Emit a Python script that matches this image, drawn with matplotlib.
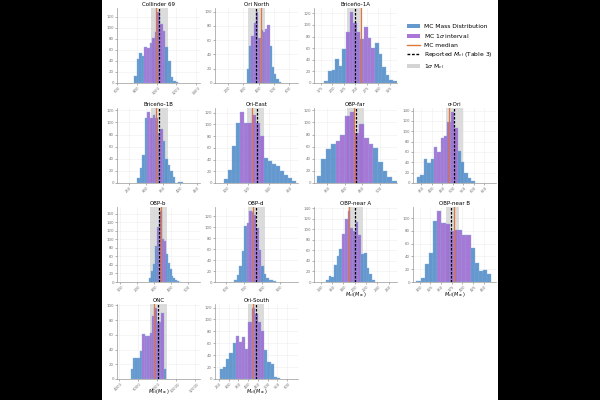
import numpy as np
import matplotlib
matplotlib.use("Agg")
from matplotlib import pyplot as plt
from matplotlib.patches import Patch, Rectangle
from matplotlib.lines import Line2D

# Paneles (en orden de lectura)
titles = ["Collinder 69", "Ori North", "Briceño-1A",
          "Briceño-1B", "Ori-East", "OBP-far", "σ-Ori",
          "OBP-b", "OBP-d", "OBP-near A", "OBP-near B",
          "ONC", "Ori-South"]

collinder69 = [12, 44, 54, 49, 65, 63, 72, 82, 93, 129, 107, 94, 65, 40, 11, 4, 1]
ori_north = [20, 52, 66, 84, 100, 63, 74, 71, 75, 81, 52, 22, 13, 6, 2]
briceno_1a = [3, 20, 22, 41, 29, 58, 87, 123, 103, 87, 75, 96, 78, 60, 69, 50, 28, 14, 5, 3]
briceno_1b = [9, 24, 47, 107, 118, 107, 113, 108, 83, 90, 69, 40, 30, 20, 10, 0, 2, 1]
ori_east = [7, 23, 63, 102, 122, 102, 102, 116, 102, 80, 43, 38, 33, 29, 20, 13, 8, 3]
obp_far = [11, 40, 56, 65, 70, 80, 110, 118, 82, 97, 74, 65, 57, 34, 20, 10, 3]
sigma_ori = [12, 16, 47, 38, 47, 70, 60, 86, 90, 117, 138, 107, 62, 40, 20, 10, 3]
obp_b = [10, 25, 42, 83, 128, 150, 167, 100, 97, 65, 45, 30, 15, 10, 5, 2, 1]
obp_d = [3, 13, 30, 57, 102, 108, 130, 127, 122, 98, 58, 30, 15, 8, 3, 4, 2]
obp_near_a = [3, 12, 10, 33, 50, 63, 92, 120, 136, 103, 98, 115, 90, 53, 56, 27, 15, 3]
obp_near_b = [1, 6, 28, 45, 96, 112, 93, 91, 80, 81, 82, 73, 73, 54, 30, 17, 19, 12]
onc = [14, 28, 28, 28, 38, 61, 58, 58, 63, 86, 97, 77, 78, 90, 14]
ori_south = [17, 20, 34, 44, 60, 72, 62, 70, 50, 96, 120, 110, 96, 80, 49, 29, 25, 3, 2]

counts = [collinder69, ori_north, briceno_1a, briceno_1b, ori_east, obp_far,
          sigma_ori, obp_b, obp_d, obp_near_a, obp_near_b, onc, ori_south]

bin_start = [767, 323.5, 182.4, 275, 97.8, 319.8, 329, 270, 645, 149, 292.6, 5250, 255]
bin_width = [26.7, 14.9, 7.9, 7.5, 3.81, 13.5, 16.1, 11, 13.6, 4.8, 9.7, 250, 16.2]
interval_lo = [877, 353, 230, 305, 113, 373.6, 409.7, 310, 712, 177.8, 340.9, 6500, 335]
interval_hi = [1087, 470, 293, 350, 135.9, 482, 522.6, 365, 793, 210.2, 419, 8750, 481.7]
medians = [993, 413, 263, 330, 124.4, 426, 482.3, 342, 749, 189.8, 379.6, 7679, 426.7]
reported = [1023, 385, 250, 338, 128.6, 432, 506.5, 326, 767, 201.2, 373.5, 8179, 438.3]
sigma_lo = [940, 334, 232.5, 315, 119.7, 408, 466.1, 274, 722, 188, 362.1, 7286, 400]
sigma_hi = [1110, 439, 263, 365, 135.6, 456, 546.8, 374, 813, 215, 392.5, 9071, 483.3]
x_lims = [(595, 1440), (115, 658), (160, 341), (215, 460), (88.9, 168), (312, 550),
          (309.7, 704.9), (80, 570), (536, 1000), (128, 275), (284.8, 478),
          (3821, 12571), (230, 655)]
x_ticks = [[600, 800, 1000, 1200, 1400], [200, 300, 400, 500, 600],
           [175, 200, 225, 250, 275, 300, 325], [250, 300, 350, 400, 450],
           [100, 120, 140, 160], [350, 400, 450, 500],
           [350, 400, 450, 500, 550, 600, 650], [100, 200, 300, 400, 500],
           [600, 700, 800, 900], [140, 160, 180, 200, 220, 240, 260],
           [300, 325, 350, 375, 400, 425, 450], [4000, 6000, 8000, 10000, 12000],
           [250, 300, 350, 400, 450, 500, 550, 600]]

# posición de cada panel: (fila, columna)
grid_pos = [(0, 0), (0, 1), (0, 2),
            (1, 0), (1, 1), (1, 2), (1, 3),
            (2, 0), (2, 1), (2, 2), (2, 3),
            (3, 0), (3, 1)]
xlabel_panels = [9, 10, 11, 12]

c_blue = "#4a86c4"
c_purple = "#9b5fcf"
c_orange = "#e0763a"
c_span = "#d4d4d4"

W, H = 600, 400
fig = plt.figure(figsize=(6, 4), dpi=100)
fig.patch.set_facecolor("black")
fig.patches.append(Rectangle((102 / W, 0), 396 / W, 1, transform=fig.transFigure,
                             facecolor="white", edgecolor="none", zorder=-5))

col_left = [117, 215, 314, 413]
row_bottom = [83, 183, 282, 379]
ax_w, ax_h = 83, 75

for i, title in enumerate(titles):
    r, c = grid_pos[i]
    ax = fig.add_axes([col_left[c] / W, 1 - row_bottom[r] / H, ax_w / W, ax_h / H])
    ax.set_facecolor("white")
    cnt = np.array(counts[i])
    edges = bin_start[i] + bin_width[i] * np.arange(len(cnt) + 1)
    centers = (edges[:-1] + edges[1:]) / 2
    inside = (centers >= interval_lo[i]) & (centers <= interval_hi[i])
    colors = [c_purple if k else c_blue for k in inside]

    ax.axvspan(sigma_lo[i], sigma_hi[i], color=c_span, alpha=0.8, zorder=1, lw=0)
    ax.bar(edges[:-1], cnt, width=bin_width[i], align="edge", color=colors,
           edgecolor="#7fb0e0", linewidth=0.3, alpha=0.85, zorder=2)
    ax.axvline(medians[i], color=c_orange, lw=0.9, zorder=3)
    ax.axvline(reported[i], color="black", lw=0.9, ls=(0, (2, 1.2)), zorder=4)

    ax.set_xlim(*x_lims[i])
    ax.set_xticks(x_ticks[i])
    ax.set_title(title, fontsize=4, pad=1.5)
    ax.grid(True, color="#eeeeee", lw=0.4, zorder=0)
    ax.set_axisbelow(True)
    for s in ["top", "right"]:
        ax.spines[s].set_visible(False)
    for s in ["left", "bottom"]:
        ax.spines[s].set_color("#999999")
        ax.spines[s].set_linewidth(0.5)
    ax.tick_params(labelsize=2.8, colors="#777777", length=1.2, width=0.4, pad=1)
    for lab in ax.get_xticklabels():
        lab.set_rotation(45)
    if c == 0:
        ax.set_ylabel("MC count", fontsize=3.5, labelpad=2)
    if i in xlabel_panels:
        ax.set_xlabel(r"$M_{cl}\,(M_\odot)$", fontsize=3.5)
        ax.xaxis.set_label_coords(0.5, -0.11)

handles = [Patch(facecolor=c_blue, alpha=0.85),
           Patch(facecolor=c_purple, alpha=0.85),
           Line2D([], [], color=c_orange, lw=1),
           Line2D([], [], color="black", lw=1, ls=(0, (2, 1.2))),
           Patch(facecolor=c_span)]
labels = ["MC Mass Distribution", r"MC 1$\sigma$ interval", "MC median",
          r"Reported $M_{cl}$ (Table 3)", r"1$\sigma$ M$_{cl}$"]
fig.legend(handles, labels, loc="upper left", bbox_to_anchor=(407 / W, 1 - 24 / H),
           fontsize=4.3, frameon=False, handlelength=2.2, handletextpad=0.6,
           labelspacing=0.45, borderaxespad=0, borderpad=0)

fig.savefig("out.png", dpi=100, facecolor=fig.get_facecolor())
